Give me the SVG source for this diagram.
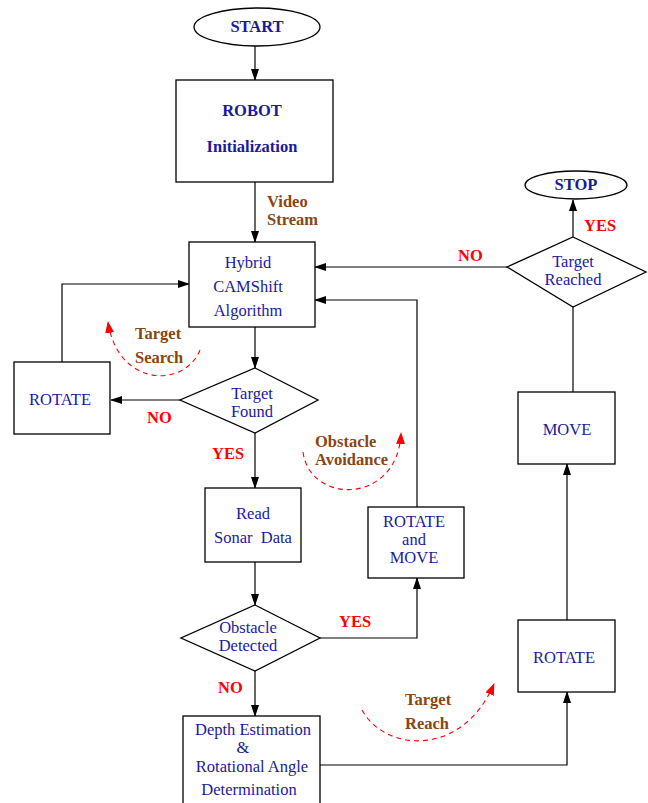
<svg xmlns="http://www.w3.org/2000/svg" width="648" height="803" viewBox="0 0 648 803">
<defs>
<marker id="ah" markerWidth="12" markerHeight="8" refX="11" refY="4" orient="auto" markerUnits="userSpaceOnUse"><path d="M0,0 L12,4 L0,8 Z" fill="#000"/></marker>
<marker id="rh" markerWidth="12" markerHeight="9" refX="11" refY="4.5" orient="auto" markerUnits="userSpaceOnUse"><path d="M0,0 L12,4.5 L0,9 Z" fill="#f00"/></marker>
<style>
.n{fill:#fff;stroke:#000;stroke-width:1.3}
.t{font-family:"Liberation Serif",serif;font-size:16.5px;fill:#1a1a9c;text-anchor:middle;white-space:pre}
.tb{font-family:"Liberation Serif",serif;font-size:16.5px;font-weight:bold;fill:#1a1a9c;text-anchor:middle}
.br{font-family:"Liberation Serif",serif;font-size:16.5px;font-weight:bold;fill:#8b4513}
.rd{font-family:"Liberation Serif",serif;font-size:16.5px;font-weight:bold;fill:#f00}
.c{fill:none;stroke:#000;stroke-width:1.2}
.d{fill:none;stroke:#f00;stroke-width:1.1;stroke-dasharray:5,4}
</style>
</defs>
<rect width="648" height="803" fill="#fff"/>
<g id="connectors">
<path class="c" d="M255,46 L255,80" marker-end="url(#ah)"/>
<path class="c" d="M255,182 L255,242" marker-end="url(#ah)"/>
<path class="c" d="M255,327 L255,368" marker-end="url(#ah)"/>
<path class="c" d="M180,400 L111,400" marker-end="url(#ah)"/>
<path class="c" d="M62,362 L62,284 L189,284" marker-end="url(#ah)"/>
<path class="c" d="M255,433 L255,488" marker-end="url(#ah)"/>
<path class="c" d="M255,562 L255,605" marker-end="url(#ah)"/>
<path class="c" d="M320,638 L417,638 L417,578" marker-end="url(#ah)"/>
<path class="c" d="M417,507 L417,300 L315,300" marker-end="url(#ah)"/>
<path class="c" d="M255,671 L255,716" marker-end="url(#ah)"/>
<path class="c" d="M320,765 L567,765 L567,692" marker-end="url(#ah)"/>
<path class="c" d="M567,620 L567,464" marker-end="url(#ah)"/>
<path class="c" d="M573,392 L573,307"/>
<path class="c" d="M573,237 L573,200" marker-end="url(#ah)"/>
<path class="c" d="M507,267 L315,267" marker-end="url(#ah)"/>
<path class="d" d="M200,350 C185,388 118,388 108,322" marker-end="url(#rh)"/>
<path class="d" d="M303,452 C310,505 398,505 401,433" marker-end="url(#rh)"/>
<path class="d" d="M362,710 C385,752 462,758 494,684" marker-end="url(#rh)"/>
</g>
<g id="labels">
<text class="br" x="267" y="207">Video</text>
<text class="br" x="267" y="225">Stream</text>
<text class="br" x="135" y="339">Target</text>
<text class="br" x="135" y="363">Search</text>
<text class="br" x="315" y="447">Obstacle</text>
<text class="br" x="315" y="465">Avoidance</text>
<text class="br" x="405" y="705">Target</text>
<text class="br" x="405" y="729">Reach</text>
<text class="rd" x="147" y="423">NO</text>
<text class="rd" x="212" y="459">YES</text>
<text class="rd" x="339" y="627">YES</text>
<text class="rd" x="218" y="693">NO</text>
<text class="rd" x="458" y="261">NO</text>
<text class="rd" x="584" y="231">YES</text>
</g>
<g id="start"><ellipse class="n" cx="257" cy="27" rx="63" ry="19"/><text class="tb" x="257" y="32">START</text></g>
<g id="init"><rect class="n" x="176" y="80" width="157" height="102"/><text class="tb" x="252" y="116">ROBOT</text><text class="tb" x="252" y="152">Initialization</text></g>
<g id="hybrid"><rect class="n" x="189" y="242" width="126" height="85"/><text class="t" x="248" y="268">Hybrid</text><text class="t" x="248" y="292">CAMShift</text><text class="t" x="248" y="316">Algorithm</text></g>
<g id="found"><polygon class="n" points="255,368 318,400 255,433 180,400"/><text class="t" x="252" y="399">Target</text><text class="t" x="252" y="417">Found</text></g>
<g id="rotate1"><rect class="n" x="14" y="362" width="96" height="72"/><text class="t" x="60" y="405">ROTATE</text></g>
<g id="sonar"><rect class="n" x="205" y="488" width="96" height="74"/><text class="t" x="253" y="519">Read</text><text class="t" x="253" y="543">Sonar  Data</text></g>
<g id="obstacle"><polygon class="n" points="255,605 320,638 255,671 181,638"/><text class="t" x="248" y="633">Obstacle</text><text class="t" x="248" y="651">Detected</text></g>
<g id="rotmove"><rect class="n" x="368" y="507" width="96" height="71"/><text class="t" x="414" y="527">ROTATE</text><text class="t" x="414" y="545">and</text><text class="t" x="414" y="563">MOVE</text></g>
<g id="depth"><rect class="n" x="183" y="716" width="137" height="92"/><text class="t" x="253" y="735">Depth Estimation</text><text class="t" x="243" y="753">&amp;</text><text class="t" x="252" y="772">Rotational Angle</text><text class="t" x="249" y="795">Determination</text></g>
<g id="rotate2"><rect class="n" x="518" y="620" width="97" height="72"/><text class="t" x="564" y="663">ROTATE</text></g>
<g id="move"><rect class="n" x="518" y="392" width="97" height="72"/><text class="t" x="567" y="435">MOVE</text></g>
<g id="reached"><polygon class="n" points="573,237 646,272 573,307 507,267"/><text class="t" x="573" y="267">Target</text><text class="t" x="573" y="285">Reached</text></g>
<g id="stop"><ellipse class="n" cx="576" cy="185" rx="51" ry="14"/><text class="tb" x="576" y="190">STOP</text></g>
</svg>
